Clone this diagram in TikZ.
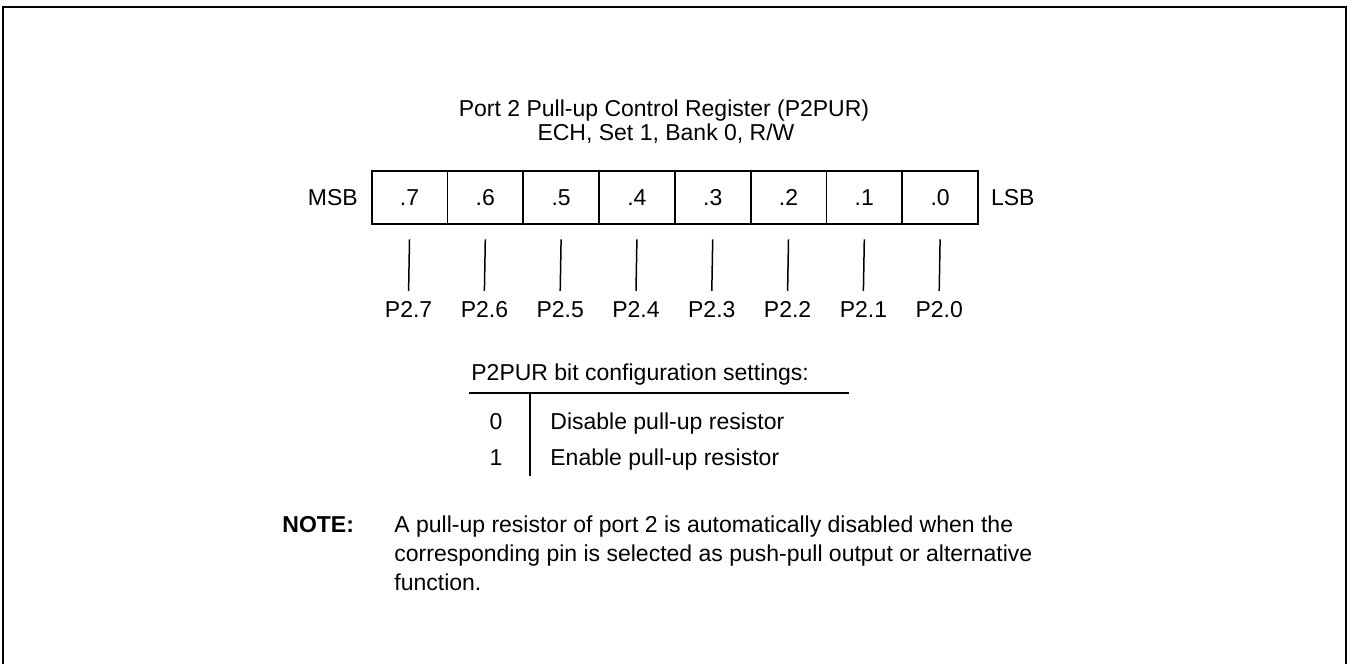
\documentclass[tikz,border=0pt]{standalone}
\usepackage{fontspec}
\setmainfont{Liberation Sans}
\usepackage{tikz}
\usetikzlibrary{positioning, calc}

\tikzset{
  regcell/.style={draw, line width=0.9pt, minimum width=37.9pt, minimum height=26.5pt, inner sep=0pt, anchor=north west},
  lbl/.style={inner sep=0pt, anchor=base},
  pinline/.style={line width=0.75pt},
}

\begin{document}
\begin{tikzpicture}[x=0.5pt, y=-0.5pt, font=\fontsize{11.5}{14}\selectfont]
  \useasboundingbox (0,0) rectangle (1348,664);
  % outer frame, open at the bottom
  \draw[line width=1.3pt] (3,664) -- (3,7) -- (1346,7) -- (1346,664);

  % title
  \node[lbl] (title) at (664,116.7) {Port 2 Pull-up Control Register (P2PUR)};
  \node[lbl] (addr) at (666,140) {ECH, Set 1, Bank 0, R/W};

  % register bits and pins
  \foreach \b [count=\i from 0] in {7,...,0} {
    \node[regcell] (cell\b) at ({370.7+75.8*\i},170) {.\b};
    \node[lbl] (pin\b) at ({408.6+75.8*\i},317) {P2.\b};
    \draw[pinline] ([yshift=-7.3pt]cell\b.south) -- ([yshift=4.8pt]pin\b.north);
  }
  \node[inner sep=0pt, left=6.3pt of cell7] (msb) {MSB};
  \node[inner sep=0pt, right=5.9pt of cell0] (lsb) {LSB};

  % bit settings
  \node[lbl, anchor=base west] (cfg) at (471,380) {P2PUR bit configuration settings:};
  \coordinate (rulel) at (469,393.3);
  \coordinate (ruler) at (849,393.3);
  \coordinate (sept) at (530,393.3);
  \coordinate (sepb) at (530,476);
  \draw[line width=0.9pt] (rulel) -- (ruler);
  \draw[line width=0.9pt] (sept) -- (sepb);
  \node[lbl] (val0) at (496,429) {0};
  \node[lbl] (val1) at (496,465) {1};
  \node[lbl, anchor=base west] (txt0) at (550,429) {Disable pull-up resistor};
  \node[lbl, anchor=base west] (txt1) at (550,465) {Enable pull-up resistor};

  % note (base anchor sits on the last line)
  \node[lbl, anchor=base west, font=\fontsize{11.5}{14}\selectfont\bfseries] (notehd) at (282,532) {NOTE:};
  \node[lbl, anchor=base west, align=left, font=\fontsize{11.5}{14.5}\selectfont] (notetxt) at (394,590)
    {A pull-up resistor of port 2 is automatically disabled when the\\
     corresponding pin is selected as push-pull output or alternative\\
     function.};
\end{tikzpicture}
\end{document}
